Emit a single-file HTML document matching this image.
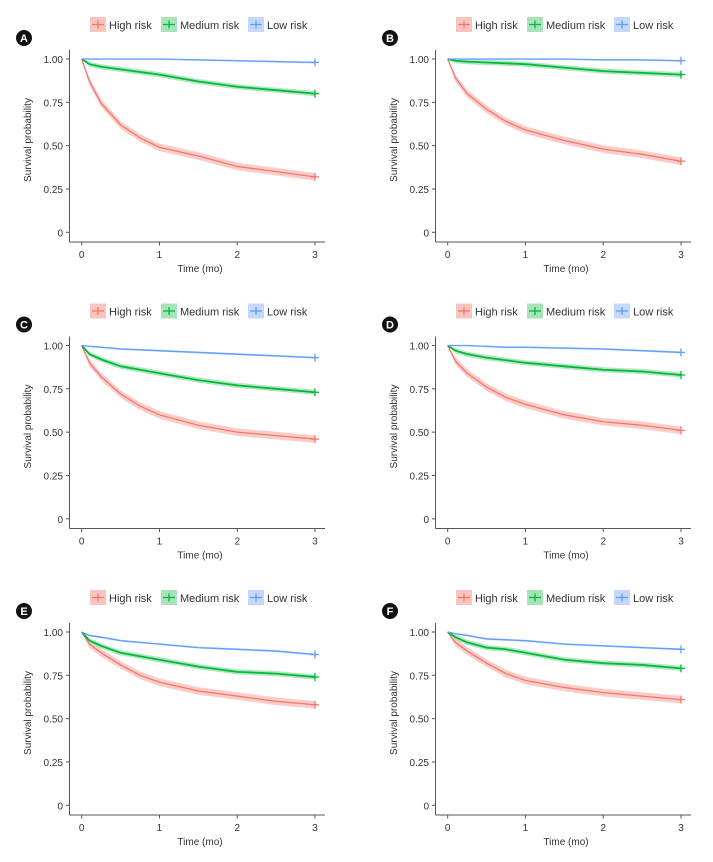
<!DOCTYPE html>
<html><head><meta charset="utf-8"><style>
html,body{margin:0;padding:0;background:#fff;}
svg{display:block;font-family:"Liberation Sans",sans-serif;}
</style></head><body>
<svg id="chart" width="713" height="862" viewBox="0 0 713 862"></svg>
<script>
const times=[0,0.1,0.25,0.5,0.75,1,1.5,2,2.5,3];
const panelLabels=["A","B","C","D","E","F"];
const xTicks=[0,1,2,3];
const yTicks=[0,0.25,0.5,0.75,1];
const yTickLabels=["0","0.25","0.50","0.75","1.00"];
const seriesNames=["High risk","Medium risk","Low risk"];
const highA=[1,0.87,0.745,0.62,0.545,0.49,0.44,0.38,0.35,0.32];
const medA=[1,0.97,0.955,0.94,0.925,0.91,0.87,0.84,0.82,0.80];
const lowA=[1,1,1,1,1,1,0.995,0.99,0.985,0.98];
const highB=[1,0.89,0.80,0.71,0.64,0.59,0.53,0.48,0.45,0.41];
const medB=[1,0.99,0.985,0.98,0.975,0.97,0.95,0.93,0.92,0.91];
const lowB=[1,1,1,1,1,1,1,0.995,0.995,0.99];
const highC=[1,0.90,0.82,0.72,0.65,0.60,0.54,0.50,0.48,0.46];
const medC=[1,0.95,0.92,0.88,0.86,0.84,0.80,0.77,0.75,0.73];
const lowC=[1,0.995,0.99,0.98,0.975,0.97,0.96,0.95,0.94,0.93];
const highD=[1,0.91,0.84,0.76,0.70,0.66,0.60,0.56,0.54,0.51];
const medD=[1,0.97,0.95,0.93,0.915,0.90,0.88,0.86,0.85,0.83];
const lowD=[1,1,1,0.995,0.99,0.99,0.985,0.98,0.97,0.96];
const highE=[1,0.93,0.88,0.81,0.75,0.71,0.66,0.63,0.60,0.58];
const medE=[1,0.95,0.92,0.88,0.86,0.84,0.80,0.77,0.76,0.74];
const lowE=[1,0.98,0.97,0.95,0.94,0.93,0.91,0.90,0.89,0.87];
const highF=[1,0.94,0.89,0.82,0.76,0.72,0.68,0.65,0.63,0.61];
const medF=[1,0.97,0.94,0.91,0.90,0.88,0.84,0.82,0.81,0.79];
const lowF=[1,0.99,0.98,0.96,0.955,0.95,0.93,0.92,0.91,0.90];
const panelSeries=[[highA,medA,lowA],[highB,medB,lowB],[highC,medC,lowC],[highD,medD,lowD],[highE,medE,lowE],[highF,medF,lowF]];
const bandHalf=[0.022,0.015,0.006];
const colors=["#f8766d","#00ba38","#619cff"];
const fills=["#f8c4c0","#a8e2b9","#c4d8fb"];
const NS="http://www.w3.org/2000/svg";
const svg=document.getElementById('chart');
function mk(tag,attrs,parent){const e=document.createElementNS(NS,tag);for(const k in attrs)e.setAttribute(k,attrs[k]);(parent||svg).appendChild(e);return e;}
panelLabels.forEach((lab,i)=>{
  const ox=(i%2)*366, oy=Math.floor(i/2)*286.5;
  const g=mk('g',{transform:`translate(${ox},${oy})`});
  
  
  const xs=t=>81.7+t*(315-81.7)/3;
  const ys=v=>232.3-v*(232.3-59);
  const c=mk('circle',{cx:24,cy:38,r:8,fill:'#111'},g);
  
  
  const lt=mk('text',{x:24,y:42,'text-anchor':'middle','font-size':11,'font-weight':'bold',fill:'#fff'},g);lt.textContent=lab;
  
  
  const lx=[90,161,248];
  seriesNames.forEach((n,k)=>{
    const lg=mk('g',{},g);
    
    
    mk('rect',{x:lx[k],y:17,width:16,height:15,fill:fills[k]},lg);
    mk('line',{x1:lx[k]+2,x2:lx[k]+14,y1:24.5,y2:24.5,stroke:colors[k],'stroke-width':1.3},lg);
    mk('line',{x1:lx[k]+8,x2:lx[k]+8,y1:20.5,y2:28.5,stroke:colors[k],'stroke-width':1.3},lg);
    const t=mk('text',{x:lx[k]+19,y:29,'font-size':11,fill:'#333'},lg);t.textContent=n;
  });
  const ya=mk('line',{x1:69.5,x2:69.5,y1:50,y2:242,stroke:'#555','stroke-width':1},g);
  
  
  const xa=mk('line',{x1:69.5,x2:325,y1:242,y2:242,stroke:'#555','stroke-width':1},g);
  
  
  yTicks.forEach((v,k)=>{
    mk('line',{x1:66,x2:69.5,y1:ys(v),y2:ys(v),stroke:'#555'},g);
    const t=mk('text',{x:63,y:ys(v)+4,'text-anchor':'end','font-size':10,fill:'#333'},g);t.textContent=yTickLabels[k];
    
    
  });
  xTicks.forEach(v=>{
    mk('line',{x1:xs(v),x2:xs(v),y1:242,y2:245.5,stroke:'#555'},g);
    const t=mk('text',{x:xs(v),y:258,'text-anchor':'middle','font-size':10,fill:'#333'},g);t.textContent=String(v);
    
    
  });
  const xt=mk('text',{x:200,y:272,'text-anchor':'middle','font-size':10,fill:'#333'},g);xt.textContent='Time (mo)';
  
  
  const yt=mk('text',{x:0,y:0,'text-anchor':'middle','font-size':10,fill:'#333',transform:'translate(31,140) rotate(-90)'},g);yt.textContent='Survival probability';
  
  
  panelSeries[i].forEach((vals,k)=>{
    const h=bandHalf[k];
    let up=times.map((t,j)=>`${xs(t)},${ys(Math.min(1,vals[j]+h*Math.min(1,j)))}`);
    let dn=times.map((t,j)=>`${xs(t)},${ys(vals[j]-h*Math.min(1,j))}`).reverse();
    const band=mk('polygon',{points:up.concat(dn).join(' '),fill:fills[k],opacity:0.85},g);
    
    
  });
  panelSeries[i].forEach((vals,k)=>{
    const pts=times.map((t,j)=>`${xs(t)},${ys(vals[j])}`).join(' ');
    const pl=mk('polyline',{points:pts,fill:'none',stroke:colors[k],'stroke-width':k===1?1.8:1.3},g);
    
    
    const ex=xs(times[times.length-1]), ey=ys(vals[vals.length-1]);
    mk('line',{x1:ex,x2:ex,y1:ey-4,y2:ey+4,stroke:colors[k],'stroke-width':1.3},g);
    mk('line',{x1:ex-4,x2:ex+4,y1:ey,y2:ey,stroke:colors[k],'stroke-width':1.3},g);
  });
});
</script>
</body></html>
